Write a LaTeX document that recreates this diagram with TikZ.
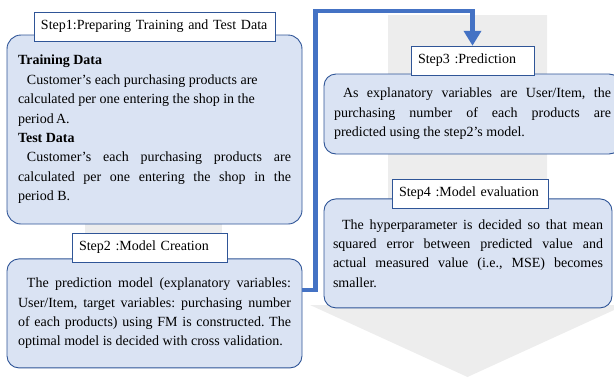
\documentclass[tikz,border=0pt]{standalone}
\usepackage{fontspec}
\setmainfont{Liberation Serif}
\usepackage{tikz}
\usetikzlibrary{positioning,arrows.meta}
\definecolor{BoxBlue}{HTML}{DAE3F3}
\definecolor{EdgeBlue}{HTML}{2F5597}
\definecolor{FlowBlue}{HTML}{4472C4}
\definecolor{ShadeGray}{HTML}{EDEDED}

\begin{document}
\begin{tikzpicture}[x=1pt, y=-1pt,
                    every node/.style={font=\fontsize{14pt}{19.4pt}\selectfont},
                    stepbox/.style={draw=EdgeBlue, line width=0.9pt, fill=BoxBlue,
                                    rounded corners=12pt, text width=273pt, inner xsep=11pt,
                                    inner ysep=0pt, align=justify,
                                    execute at begin node={\parindent=0pt\hyphenpenalty=10000\frenchspacing}},
                    steplabel/.style={draw=EdgeBlue, line width=0.8pt, fill=white, align=left,
                                      inner xsep=7pt, minimum height=29pt,
                                      text height=10pt, text depth=3.5pt},
                    flowarrow/.style={draw=FlowBlue, line width=4.5pt,
                                      -{Triangle[length=15pt,width=17pt]}}]
\useasboundingbox (0,0) rectangle (614,378);
% gray background arrows
\fill[ShadeGray] (85,40) rectangle (222,300);
\fill[ShadeGray] (388,15) -- (547,15) -- (547,305) -- (625,305) -- (467.5,377)
                 -- (310,305) -- (388,305) -- cycle;
% left column
\node[stepbox, minimum height=189pt, rounded corners=14pt] (data) at (154.5,129.5)
  {\textbf{Training Data}\par
   {\rightskip=0pt plus 1fil\hspace*{9pt}Customer’s each purchasing products are\linebreak
   calculated per one entering the shop in the\linebreak period\,A.\par}
   \textbf{Test Data}\par
   \hspace*{9pt}Customer’s each purchasing products are\linebreak calculated per one
   entering the shop in the\linebreak period B.};
\node[stepbox, minimum height=109pt, below=34pt of data] (model)
  {\hspace*{9pt}The prediction model (explanatory variables:\linebreak User/Item, target
   variables: purchasing number\linebreak of each products) using FM is constructed. The\linebreak
   optimal model is decided with cross validation.};
% right column
\node[stepbox, minimum height=80pt, text width=277pt, inner xsep=10pt] (predict) at (472.5,114)
  {\hspace*{9pt}As explanatory variables are User/Item, the\linebreak purchasing number of
   each products are\linebreak predicted using the step2’s model.};
\node[stepbox, minimum height=109pt, text width=270pt, inner xsep=9pt,
      below=44pt of predict.south west, anchor=north west] (evaluate)
  {\hspace*{9pt}The hyperparameter is decided so that mean\linebreak squared error between
   predicted value and\linebreak actual measured value (i.e., MSE) becomes\linebreak smaller.};
% step labels
\node[steplabel, text width=227pt, above=-7pt of data] (datalabel)
  {Step1:Preparing Training and Test Data};
\node[steplabel, text width=141pt, above=-4pt of model, xshift=-5pt] (modellabel)
  {Step2 :Model Creation};
\node[steplabel, text width=109pt, above=-2pt of predict] (predictlabel)
  {Step3 :Prediction};
\node[steplabel, text width=142pt, above=-10pt of evaluate, xshift=2pt] (evaluatelabel)
  {Step4 :Model evaluation};
% connector
\coordinate (lowturn) at (315.5,290);
\coordinate (topturn) at (315.5,11);
\draw[flowarrow] (model.east |- lowturn) -- (lowturn) -- (topturn) -| (predictlabel.north);
\end{tikzpicture}
\end{document}
